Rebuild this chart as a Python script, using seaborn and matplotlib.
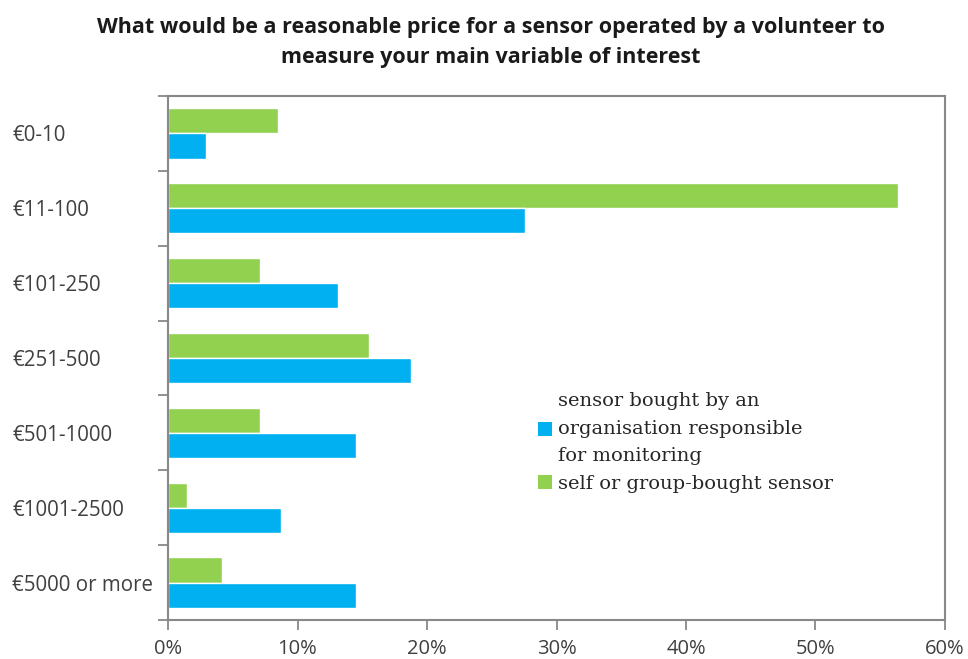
import matplotlib
matplotlib.use("Agg")
import matplotlib.pyplot as plt
import seaborn as sns
import pandas as pd
from matplotlib.patches import Patch
from matplotlib.ticker import FixedLocator

categories = ["€0-10", "€11-100", "€101-250", "€251-500", "€501-1000", "€1001-2500", "€5000 or more"]
organisation = [2.9, 27.6, 13.1, 18.8, 14.5, 8.7, 14.5]
self_bought = [8.5, 56.4, 7.1, 15.5, 7.1, 1.5, 4.2]
xticks = [0, 10, 20, 30, 40, 50, 60]

lab_org = "sensor bought by an\norganisation responsible\nfor monitoring"
lab_self = "self or group-bought sensor"

df = pd.DataFrame({
    "category": categories * 2,
    "value": self_bought + organisation,
    "series": [lab_self] * len(categories) + [lab_org] * len(categories),
})

sns.set_style("white")
plt.rcParams["font.family"] = ["Open Sans", "DejaVu Sans"]

fig = plt.figure(figsize=(9.68, 6.59), dpi=100)
ax = fig.add_axes([168/968, 1-620/659, (945-168)/968, (620-96)/659])

blue = "#00B0F0"
green = "#92D050"
sns.barplot(data=df, y="category", x="value", hue="series", orient="h",
            order=categories, hue_order=[lab_self, lab_org],
            palette=[green, blue], width=0.67, ax=ax, legend=False,
            saturation=1)

ax.set_xlim(0, 60)
ax.set_ylim(len(categories) - 0.5, -0.5)
ax.set_xticks(xticks)
ax.set_xticklabels([f"{v}%" for v in xticks])
ax.set_xlabel("")
ax.set_ylabel("")
ax.yaxis.set_minor_locator(FixedLocator([i - 0.5 for i in range(len(categories) + 1)]))
ax.tick_params(axis="y", which="major", length=0, pad=(168 - 12) * 0.72, labelsize=14.8, labelcolor="#404040")
ax.tick_params(axis="y", which="minor", length=7, width=1.3, color="#888888", direction="out", left=True)
ax.tick_params(axis="x", which="major", length=7, width=1.3, color="#888888", direction="out",
               bottom=True, pad=7, labelsize=14.5, labelcolor="#404040")
for lbl in ax.get_yticklabels():
    lbl.set_horizontalalignment("left")
for s in ax.spines.values():
    s.set_visible(True)
    s.set_color("#888888")
    s.set_linewidth(1.5)

fig.text(491/968, 1 - 17/659, "What would be a reasonable price for a sensor operated by a volunteer to\nmeasure your main variable of interest",
         ha="center", va="top", fontsize=15.5, fontweight="bold", linespacing=1.55, color="#1a1a1a")

handles = [Patch(facecolor=blue, edgecolor="none"), Patch(facecolor=green, edgecolor="none")]
leg = ax.legend(handles, [lab_org, lab_self], loc="upper left",
                bbox_to_anchor=((530-168)/777, (620-384)/524), frameon=False,
                prop={"family": ["DejaVu Serif"], "size": 14},
                handlelength=0.72, handleheight=0.72, handletextpad=0.3,
                labelspacing=0.5, borderaxespad=0)
for t in leg.get_texts():
    t.set_linespacing(1.7)

fig.savefig("out.png", dpi=100)
